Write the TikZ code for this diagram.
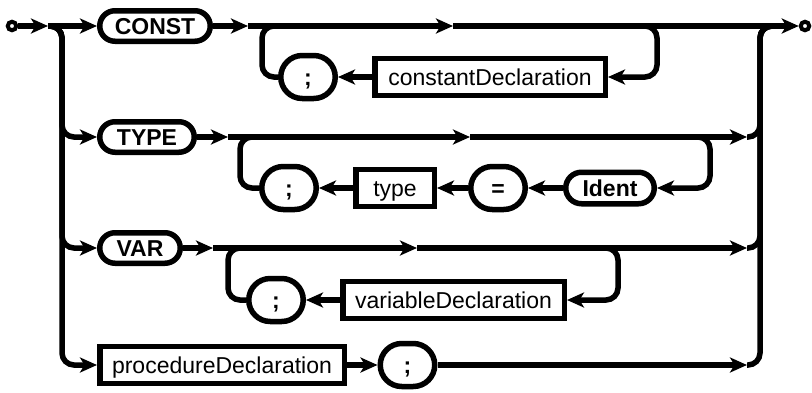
\documentclass[tikz,border=0pt]{standalone}
\usepackage{fontspec}
\setmainfont{Liberation Sans}
\usetikzlibrary{arrows.meta}
\begin{document}
\begin{tikzpicture}[x=1pt,y=-1pt,line width=5.5pt,
  arr/.style={-{Stealth[length=17pt,width=15pt,inset=4.5pt]}},
  rc/.style={rounded corners=12pt},
  basetext/.style={inner sep=0pt,text height=16.5pt,text depth=0pt,line width=5.5pt,draw},
  pill/.style={basetext,rectangle,minimum height=30.5pt,rounded corners=15.25pt,font=\fontsize{23}{27}\selectfont\bfseries},
  roundt/.style={basetext,rectangle,minimum height=43pt,minimum width=54.5pt,rounded corners=21.5pt,font=\fontsize{23}{27}\selectfont\bfseries},
  ntbox/.style={basetext,rectangle,minimum height=37pt,font=\fontsize{23}{27}\selectfont},
  dot/.style={draw,circle,line width=4pt,minimum size=8.5pt,inner sep=0pt,fill=white}
]
\useasboundingbox (0,0) rectangle (812,392);

% nodes
\node[dot] (start) at (12,26) {};
\node[dot] (end) at (805,26) {};
\node[pill,minimum width=110.5pt] (const) at (155,26) {CONST};
\node[pill,minimum width=94.5pt] (type) at (147,137) {TYPE};
\node[pill,minimum width=80.5pt] (var) at (140,248) {VAR};
\node[ntbox,minimum width=244.5pt] (proc) at (222,365) {procedureDeclaration};

\node[roundt] (semiA) at (308,77) {;};
\node[ntbox,minimum width=230.5pt] (cdecl) at (490,77) {constantDeclaration};

\node[roundt] (semiB) at (289,188) {;};
\node[ntbox,minimum width=78.5pt] (tbox) at (395,188) {type};
\node[roundt] (eq) at (498,188) {=};
\node[pill,minimum width=88.5pt,minimum height=31.5pt,rounded corners=15.75pt] (ident) at (610,188) {Ident};

\node[roundt] (semiC) at (276,300) {;};
\node[ntbox,minimum width=221.5pt] (vdecl) at (453.5,300) {variableDeclaration};

\node[roundt] (semiD) at (407.5,365) {;};

% coordinates
\coordinate (aS) at (48,26);
\coordinate (jL) at (62,26);
\coordinate (jR) at (760,26);
\coordinate (jRr) at (776,26);

\coordinate (a1) at (248,26);
\coordinate (m1) at (453,26);
\coordinate (l1) at (262,26);
\coordinate (l1r) at (280,26);
\coordinate (r1a) at (640,26);
\coordinate (r1) at (657,26);

\coordinate (a2) at (228,137);
\coordinate (m2) at (470,137);
\coordinate (e2) at (747,137);
\coordinate (l2) at (240,137);
\coordinate (l2r) at (258,137);
\coordinate (r2a) at (693,137);
\coordinate (r2) at (710,137);

\coordinate (a3) at (213,248);
\coordinate (m3) at (417,248);
\coordinate (e3) at (747,248);
\coordinate (l3) at (228,248);
\coordinate (l3r) at (246,248);
\coordinate (r3a) at (601,248);
\coordinate (r3) at (618,248);

\coordinate (e4) at (747,365);

% left entry
\draw[arr] (start) -- (aS);
\draw[arr] (aS) -- (const);
\draw[arr,rc] (aS) -- (jL) |- (type);
\draw[arr,rc] (aS) -- (jL) |- (var);
\draw[arr,rc] (aS) -- (jL) |- (proc);

% row 1
\draw[arr] (const) -- (a1);
\draw[arr] (a1) -- (m1);
\draw[arr] (m1) -- (end);
\draw[rc] (semiA.west) -| (l1) -- (l1r);
\draw[arr,rc] (r1a) -- (r1) |- (cdecl);
\draw[arr] (cdecl) -- (semiA);

% row 2
\draw[arr] (type) -- (a2);
\draw[arr] (a2) -- (m2);
\draw[arr] (m2) -- (e2);
\draw[rc] (e2) -| (jR) -- (jRr);
\draw[rc] (semiB.west) -| (l2) -- (l2r);
\draw[arr,rc] (r2a) -- (r2) |- (ident);
\draw[arr] (ident) -- (eq);
\draw[arr] (eq) -- (tbox);
\draw[arr] (tbox) -- (semiB);

% row 3
\draw[arr] (var) -- (a3);
\draw[arr] (a3) -- (m3);
\draw[arr] (m3) -- (e3);
\draw[rc] (e3) -| (jR) -- (jRr);
\draw[rc] (semiC.west) -| (l3) -- (l3r);
\draw[arr,rc] (r3a) -- (r3) |- (vdecl);
\draw[arr] (vdecl) -- (semiC);

% row 4
\draw[arr] (proc) -- (semiD);
\draw[arr] (semiD) -- (e4);
\draw[rc] (e4) -| (jR) -- (jRr);
\end{tikzpicture}
\end{document}
